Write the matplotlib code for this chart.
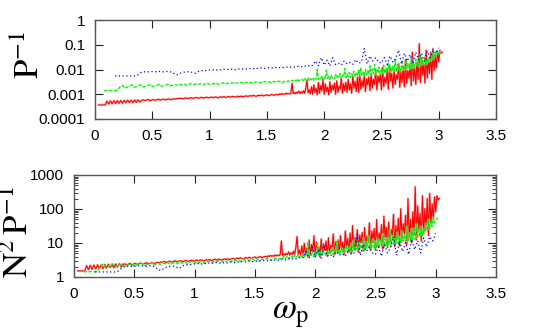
import numpy as np
import matplotlib
matplotlib.use("Agg")
import matplotlib.pyplot as plt
from matplotlib.ticker import FixedLocator, LogLocator, NullFormatter

plt.rcParams['font.family'] = ['Liberation Sans', 'DejaVu Sans']
plt.rcParams['mathtext.fontset'] = 'stix'

# chain lengths N for the three series
N_values = [16, 32, 64]  # blue, green, red

# P^{-1} for N=64 (red), units of 1e-4
# smooth part: omega 0.03 .. 1.59 (step 0.015)
red_p_low = [3.7, 3.7, 3.7, 3.7, 3.7,
             5.3, 4.0, 5.4, 4.1, 5.5, 4.2, 5.6, 4.3, 5.6, 4.3, 5.7, 4.5, 5.8, 4.6, 5.8, 4.6, 5.9, 4.7, 6.0, 4.8,
             5.6, 6.0, 5.5, 5.8, 6.2, 5.4, 5.9, 6.1, 5.7, 6.0, 6.3, 5.8, 6.1, 6.4, 5.9, 6.2, 6.5, 6.0, 6.3, 6.6,
             6.4, 6.8, 6.6, 7.0, 6.5, 6.9, 7.1, 6.7, 7.0, 7.3, 6.8, 7.1, 7.4, 6.9, 7.2, 7.5, 7.0, 7.3, 7.6, 7.1,
             7.4, 7.7, 7.2, 7.8, 7.5, 7.3, 7.9, 7.6, 8.0, 7.4, 7.8, 8.1, 7.6, 8.2, 7.9, 7.7, 8.3, 8.0, 8.4, 7.9,
             8.3, 8.6, 8.1, 8.8, 8.4, 9.0, 8.5, 8.3, 9.1, 8.7, 9.3, 8.6, 9.0, 9.5, 8.8, 9.3, 9.7, 9.0, 9.6, 9.9]
red_omega_low = (0.03, 1.59)
# noisy part: omega 1.60 .. 3.03 (step 0.01)
red_p_high = [9.4, 10.2, 9.8, 10.6, 9.9, 10.4, 10.0, 11.0, 10.2, 10.7,
              10.3, 11.2, 28, 10.5, 11.8, 10.6, 12.0, 11.0, 13.5, 10.8,
              12.5, 11.2, 14.0, 11.0, 18, 38, 11.5, 15, 10.5, 20,
              10, 24, 12, 17, 9.5, 30, 11, 22, 14, 40,
              10, 26, 13, 19, 9.5, 32, 12, 23, 15, 28,
              10, 35, 12, 21, 16, 45, 11, 27, 14, 30,
              12, 40, 15, 26, 11, 55, 18, 33, 13, 48,
              12, 80, 16, 35, 20, 60, 13, 42, 24, 50,
              14, 70, 18, 40, 25, 95, 15, 55, 30, 65,
              15, 120, 20, 48, 28, 85, 16, 150, 35, 70,
              18, 100, 25, 60, 40, 170, 19, 80, 30, 130,
              20, 250, 28, 90, 45, 160, 22, 500, 35, 120,
              25, 200, 40, 1100, 30, 300, 60, 180, 28, 600,
              45, 250, 70, 500, 40, 700, 90, 350, 120, 550,
              200, 600, 450, 500]
red_omega_high = (1.60, 3.03)

# P^{-1} for N=32 (green), units of 1e-4
# smooth part: omega 0.08 .. 1.70 (step 0.02)
green_p_low = [14, 14, 14, 14, 14, 14, 15,
               21, 23, 18, 19, 22, 24, 19, 20, 22, 24, 20, 21, 23, 24, 20, 22, 23, 25, 21, 22, 24, 25, 22, 23, 24,
               23, 25, 24, 26, 23, 25, 27, 24, 26, 25, 27, 24, 26, 28, 25, 27, 26, 28, 25, 27, 29, 26, 28, 27, 29,
               27, 29, 28, 30, 27, 31, 29, 30, 28, 32, 30, 29, 31, 33, 30, 32, 29, 33, 31, 34, 32, 30, 35, 33, 34]
green_omega_low = (0.08, 1.70)
# noisy part: omega 1.71 .. 3.02 (step 0.01)
green_p_high = [33, 37, 34, 39, 35, 36, 41, 34, 38, 36,
                40, 35, 43, 37, 39, 45, 36, 42, 38, 48,
                37, 44, 40, 100, 39, 47, 42, 55, 38, 50,
                41, 95, 44, 52, 40, 58, 46, 49, 42, 62,
                45, 55, 48, 70, 44, 60, 50, 110, 47, 65,
                52, 75, 48, 68, 56, 85, 50, 72, 58, 95,
                55, 120, 60, 80, 57, 100, 62, 90, 65, 140,
                60, 105, 68, 160, 63, 95, 70, 125, 66, 110,
                72, 150, 70, 115, 80, 180, 75, 130, 78, 140,
                85, 250, 80, 160, 90, 135, 88, 200, 95, 150,
                100, 220, 110, 170, 105, 300, 115, 190, 120, 260,
                130, 250, 125, 400, 140, 230, 150, 320, 160, 280,
                200, 350, 220, 480, 250, 400, 300, 550, 380, 450,
                500, 520]
green_omega_high = (1.71, 3.02)

# P^{-1} for N=16 (blue), units of 1e-3, omega from 0.175 to 3.0 (step 0.025)
blue_p = [5.5, 5.5, 5.5, 5.5, 5.5, 5.5, 5.5, 5.5, 6.0,
          7.5, 8.0, 8.2, 8.0, 8.3, 8.1, 8.4, 8.2, 8.0, 8.3, 8.1, 7.8,
          6.3, 6.1, 7.2, 7.8, 8.0, 8.2, 7.6, 7.0, 8.2, 9.0, 8.8, 9.2,
          9.5, 9.8, 9.2, 10.0, 9.6, 10.2, 9.9, 10.4, 10.1, 9.8, 10.5, 10.2, 10.8, 10.4, 11.0, 10.6, 11.2, 10.8, 11.5, 11.0,
          11.3, 11.8, 11.4, 12.0, 11.6, 12.3, 11.9, 12.6, 12.1, 13.0, 12.4, 13.5, 12.8, 14.0, 13.2, 15.0, 14.5, 22, 14.0, 30,
          15, 24, 14, 30, 16, 18, 15, 22, 17, 19, 16, 25, 18, 20, 70, 17, 35, 22, 30, 20,
          18, 30, 16, 35, 20, 28, 60, 17, 45, 22, 40, 18, 50, 25, 45, 20, 55, 30, 60, 45, 75]
blue_omega = (0.175, 3.0)

x_ticks = [0, 0.5, 1, 1.5, 2, 2.5, 3, 3.5]
x_tick_labels = ['0', '0.5', '1', '1.5', '2', '2.5', '3', '3.5']
top_y_ticks = [1e-4, 1e-3, 1e-2, 1e-1, 1]
top_y_labels = ['0.0001', '0.001', '0.01', '0.1', '1']
bot_y_ticks = [1, 10, 100, 1000]
bot_y_labels = ['1', '10', '100', '1000']


def build(parts, scale):
    xs, ys = [], []
    for vals, (a, b) in parts:
        xs.append(np.linspace(a, b, len(vals)))
        ys.append(np.array(vals, dtype=float) * scale)
    return np.concatenate(xs), np.concatenate(ys)


red_x, red_y = build([(red_p_low, red_omega_low), (red_p_high, red_omega_high)], 1e-4)
green_x, green_y = build([(green_p_low, green_omega_low), (green_p_high, green_omega_high)], 1e-4)
blue_x, blue_y = build([(blue_p, blue_omega)], 1e-3)

# (x, P^-1, N, colour, fringe colour, linestyle, linewidth)
series = [
    (red_x, red_y, N_values[2], '#ff0000', '#ff8a8a', '-', 0.8),
    (green_x, green_y, N_values[1], '#00ee00', '#9aff9a', (0, (3, 1.5)), 0.8),
    (blue_x, blue_y, N_values[0], '#0000ff', None, (0, (1, 2)), 0.9),
]

W, H = 554, 335
fig = plt.figure(figsize=(W / 100, H / 100), dpi=100)


def px_axes(l, t, r, b):
    return fig.add_axes([l / W, 1 - b / H, (r - l) / W, (b - t) / H])


ax1 = px_axes(95, 20, 496, 119)
ax2 = px_axes(74, 175, 496, 277)

for x, p, N, col, fringe, ls, lw in series:
    for ax, y in [(ax1, p), (ax2, p * N ** 2)]:
        if fringe is not None:
            ax.plot(x, y, color=fringe, ls=ls, lw=lw * 2.0, alpha=0.55)
        ax.plot(x, y, color=col, ls=ls, lw=lw)

for ax, yt, yl, ylim in [(ax1, top_y_ticks, top_y_labels, (1e-4, 1)),
                         (ax2, bot_y_ticks, bot_y_labels, (1, 1000))]:
    ax.set_yscale('log')
    ax.set_xlim(0, 3.5)
    ax.set_ylim(*ylim)
    ax.set_xticks(x_ticks)
    ax.set_xticklabels(x_tick_labels)
    ax.yaxis.set_major_locator(FixedLocator(yt))
    ax.set_yticklabels(yl)
    ax.yaxis.set_minor_locator(LogLocator(base=10, subs=np.arange(2, 10)))
    ax.yaxis.set_minor_formatter(NullFormatter())
    ax.tick_params(which='both', direction='in', top=True, right=True,
                   labelsize=11, colors='#222222', labelcolor='black')
    ax.tick_params(which='major', length=6, width=0.8, pad=7)
    ax.tick_params(which='minor', length=3, width=0.6)
    for s in ax.spines.values():
        s.set_color('#555555')
        s.set_linewidth(1.0)

serif = ['Liberation Serif', 'DejaVu Serif']
fig.text(30 / W, 1 - 55 / H, r'$\mathrm{P}^{-1}$', rotation=90, ha='center', va='center',
         fontsize=25, family=serif)
fig.text(19 / W, 1 - 232 / H, r'$\mathrm{N}^{2}\,\mathrm{P}^{-1}$', rotation=90, ha='center',
         va='center', fontsize=25, family=serif)
fig.text(291 / W, 1 - 313 / H, r'$\omega_{\mathrm{p}}$', ha='center', va='center',
         fontsize=25, family=serif)

fig.savefig('out.png', dpi=100)
